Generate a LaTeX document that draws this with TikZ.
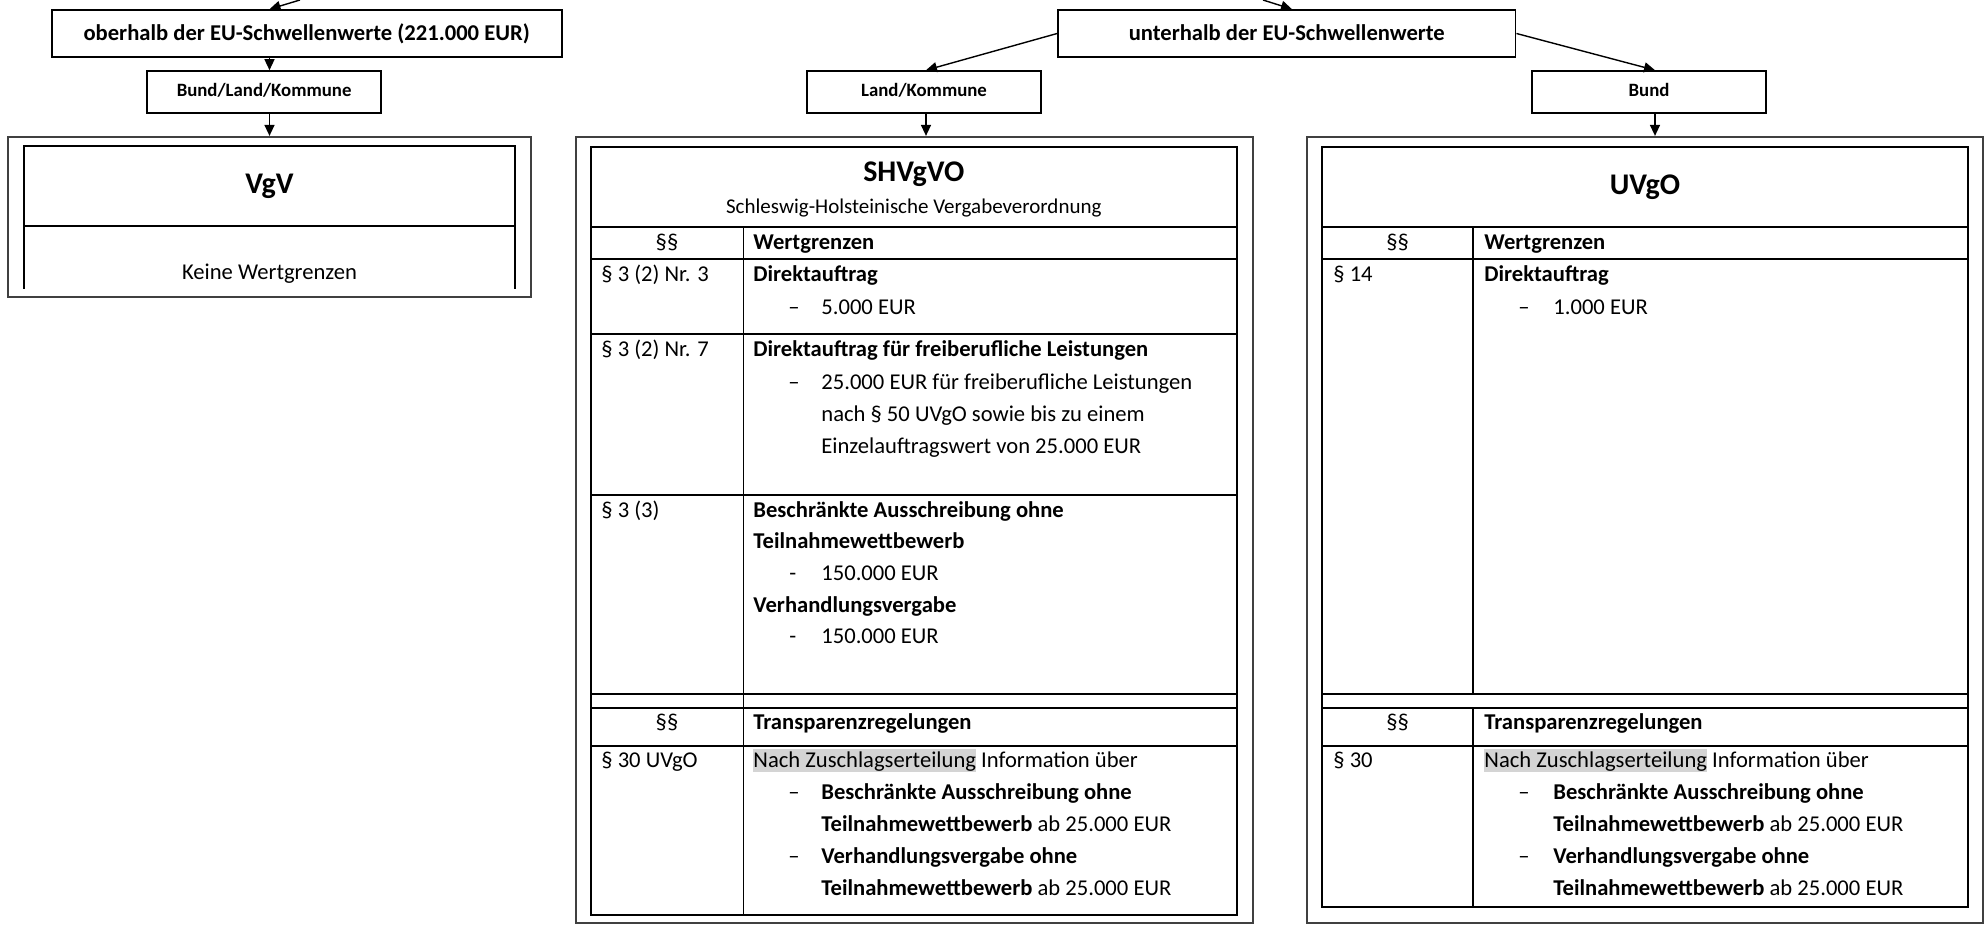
\documentclass[tikz,border=0pt]{standalone}
\usepackage{fontspec}
\setmainfont{Carlito}
\usetikzlibrary{arrows.meta}
\definecolor{hlgray}{gray}{0.83}
\newcommand\hlbox[1]{{\setlength{\fboxsep}{0pt}\colorbox{hlgray}{\rule[-2pt]{0pt}{11.5pt}#1}}}
\newcommand\Ln[5]{\node[#2] (#1) at (#3,#4) {#5};}
\begin{document}
\begin{tikzpicture}[x=0.5pt,y=-0.5pt,
  box/.style={draw, line width=0.8pt, inner sep=0pt, font=\fontsize{11.3pt}{13pt}\selectfont\bfseries, text height=9pt, text depth=2pt, minimum height=23.5pt},
  sbox/.style={draw, line width=0.8pt, inner sep=0pt, font=\fontsize{9.4pt}{11pt}\selectfont\bfseries, text height=7pt, text depth=2pt, minimum width=117pt, minimum height=21pt},
  outer/.style={draw=black!75, line width=1.1pt, inner sep=0pt},
  tab/.style={line width=0.8pt},
  arr/.style={line width=0.7pt, -{Triangle[length=5.5pt,width=5pt]}},
  tx/.style={anchor=base west, inner sep=0pt, font=\fontsize{11.3pt}{13pt}\selectfont},
  tb/.style={tx, font=\fontsize{11.3pt}{13pt}\selectfont\bfseries},
  tc/.style={tx, anchor=base},
  ttl/.style={anchor=base, inner sep=0pt, font=\fontsize{15pt}{18pt}\selectfont\bfseries},
  sub/.style={anchor=base, inner sep=0pt, font=\fontsize{10.5pt}{12pt}\selectfont},
]
\useasboundingbox (0,0) rectangle (1988,929);

% top boxes
\node[box, minimum width=255pt] (obh) at (306.7,33.5) {oberhalb der EU-Schwellenwerte (221.000 EUR)};
\node[box, minimum width=228.85pt] (unt) at (1286.8,33.5) {unterhalb der EU-Schwellenwerte};
\node[sbox] (blk) at (264.1,92) {Bund/Land/Kommune};
\node[sbox] (lk) at (924,92) {Land/Kommune};
\node[sbox] (bund) at (1649,92) {Bund};

% outer boxes
\node[outer, minimum width=261.5pt, minimum height=80pt] (vgvo) at (269.5,217) {};
\node[outer, minimum width=338.5pt, minimum height=393pt] (shvo) at (914.5,530) {};
\node[outer, minimum width=338pt, minimum height=393pt] (uvo) at (1645,530) {};

% connectors
\coordinate (xa) at (269.5,0);
\coordinate (xb) at (926,0);
\coordinate (xc) at (1655,0);
\coordinate (xe) at (1292,0);
\coordinate (inA) at (300,0);
\coordinate (inB) at (1263,0);
\draw[arr] (inA) -- (obh.north -| xa);
\draw[arr] (inB) -- (unt.north -| xe);
\draw[arr] (obh.south -| xa) -- (blk.north -| xa);
\draw[arr] (blk.south -| xa) -- (vgvo.north -| xa);
\draw[arr] (unt.west) -- (lk.north -| xb);
\draw[arr] (unt.east) -- (bund.north -| xc);
\draw[arr] (lk.south -| xb) -- (shvo.north -| xb);
\draw[arr] (bund.south -| xc) -- (uvo.north -| xc);

% VgV
\draw[tab] (24,289) -- (24,146) -- (515,146) -- (515,289);
\draw[tab] (24,226) -- (515,226);
\Ln{vgvt}{ttl}{269.5}{194}{VgV}
\Ln{vgvk}{tc}{269.5}{280}{Keine Wertgrenzen}

% SHVgVO table
\draw[tab] (590.7,147) rectangle (1237,915);
\foreach \yy in {227,259,334,495,694,708,746} \draw[tab] (590.7,\yy) -- (1237,\yy);
\draw[tab] (743.3,227) -- (743.3,915);
\Ln{st}{ttl}{913.8}{182}{SHVgVO}
\Ln{ss}{sub}{913.8}{214}{Schleswig-Holsteinische Vergabeverordnung}
\Ln{sh1}{tc}{667}{250}{§§}
\Ln{sh2}{tb}{753}{250}{Wertgrenzen}
\Ln{sa1}{tx}{601}{282}{§ 3 (2) Nr. 3}
\Ln{sa2}{tb}{753}{282}{Direktauftrag}
\Ln{sa3}{tx}{788}{315}{–}
\Ln{sa4}{tx}{821}{315}{5.000 EUR}
\Ln{sb1}{tx}{601}{357}{§ 3 (2) Nr. 7}
\Ln{sb2}{tb}{753}{357}{Direktauftrag für freiberufliche Leistungen}
\Ln{sb3}{tx}{788}{390}{–}
\Ln{sb4}{tx}{821}{390}{25.000 EUR für freiberufliche Leistungen}
\Ln{sb5}{tx}{821}{422}{nach § 50 UVgO sowie bis zu einem}
\Ln{sb6}{tx}{821}{454}{Einzelauftragswert von 25.000 EUR}
\Ln{sc1}{tx}{601}{518}{§ 3 (3)}
\Ln{sc2}{tb}{753}{518}{Beschränkte Ausschreibung ohne}
\Ln{sc3}{tb}{753}{549}{Teilnahmewettbewerb}
\Ln{sc4}{tx}{789}{581}{-}
\Ln{sc5}{tx}{821}{581}{150.000 EUR}
\Ln{sc6}{tb}{753}{613}{Verhandlungsvergabe}
\Ln{sc7}{tx}{789}{644}{-}
\Ln{sc8}{tx}{821}{644}{150.000 EUR}
\Ln{sd1}{tc}{667}{730}{§§}
\Ln{sd2}{tb}{753}{730}{Transparenzregelungen}
\Ln{se1}{tx}{601}{768}{§ 30 UVgO}
\Ln{se2}{tx}{753}{768}{\hlbox{Nach Zuschlagserteilung} Information über}
\Ln{se3}{tx}{788}{800}{–}
\Ln{se4}{tb}{821}{800}{Beschränkte Ausschreibung ohne}
\Ln{se5}{tx}{821}{832}{\textbf{Teilnahmewettbewerb} ab 25.000 EUR}
\Ln{se6}{tx}{788}{864}{–}
\Ln{se7}{tb}{821}{864}{Verhandlungsvergabe ohne}
\Ln{se8}{tx}{821}{896}{\textbf{Teilnahmewettbewerb} ab 25.000 EUR}

% UVgO table
\draw[tab] (1322,147) rectangle (1968,907);
\foreach \yy in {227,259,694,708,746} \draw[tab] (1322,\yy) -- (1968,\yy);
\draw[tab] (1473,227) -- (1473,694);
\draw[tab] (1473,708) -- (1473,907);
\Ln{ut}{ttl}{1645}{195}{UVgO}
\Ln{uh1}{tc}{1397.5}{250}{§§}
\Ln{uh2}{tb}{1484}{250}{Wertgrenzen}
\Ln{ua1}{tx}{1333}{282}{§ 14}
\Ln{ua2}{tb}{1484}{282}{Direktauftrag}
\Ln{ua3}{tx}{1518}{315}{–}
\Ln{ua4}{tx}{1553}{315}{1.000 EUR}
\Ln{ud1}{tc}{1397.5}{730}{§§}
\Ln{ud2}{tb}{1484}{730}{Transparenzregelungen}
\Ln{ue1}{tx}{1333}{768}{§ 30}
\Ln{ue2}{tx}{1484}{768}{\hlbox{Nach Zuschlagserteilung} Information über}
\Ln{ue3}{tx}{1518}{800}{–}
\Ln{ue4}{tb}{1553}{800}{Beschränkte Ausschreibung ohne}
\Ln{ue5}{tx}{1553}{832}{\textbf{Teilnahmewettbewerb} ab 25.000 EUR}
\Ln{ue6}{tx}{1518}{864}{–}
\Ln{ue7}{tb}{1553}{864}{Verhandlungsvergabe ohne}
\Ln{ue8}{tx}{1553}{896}{\textbf{Teilnahmewettbewerb} ab 25.000 EUR}
\end{tikzpicture}
\end{document}
